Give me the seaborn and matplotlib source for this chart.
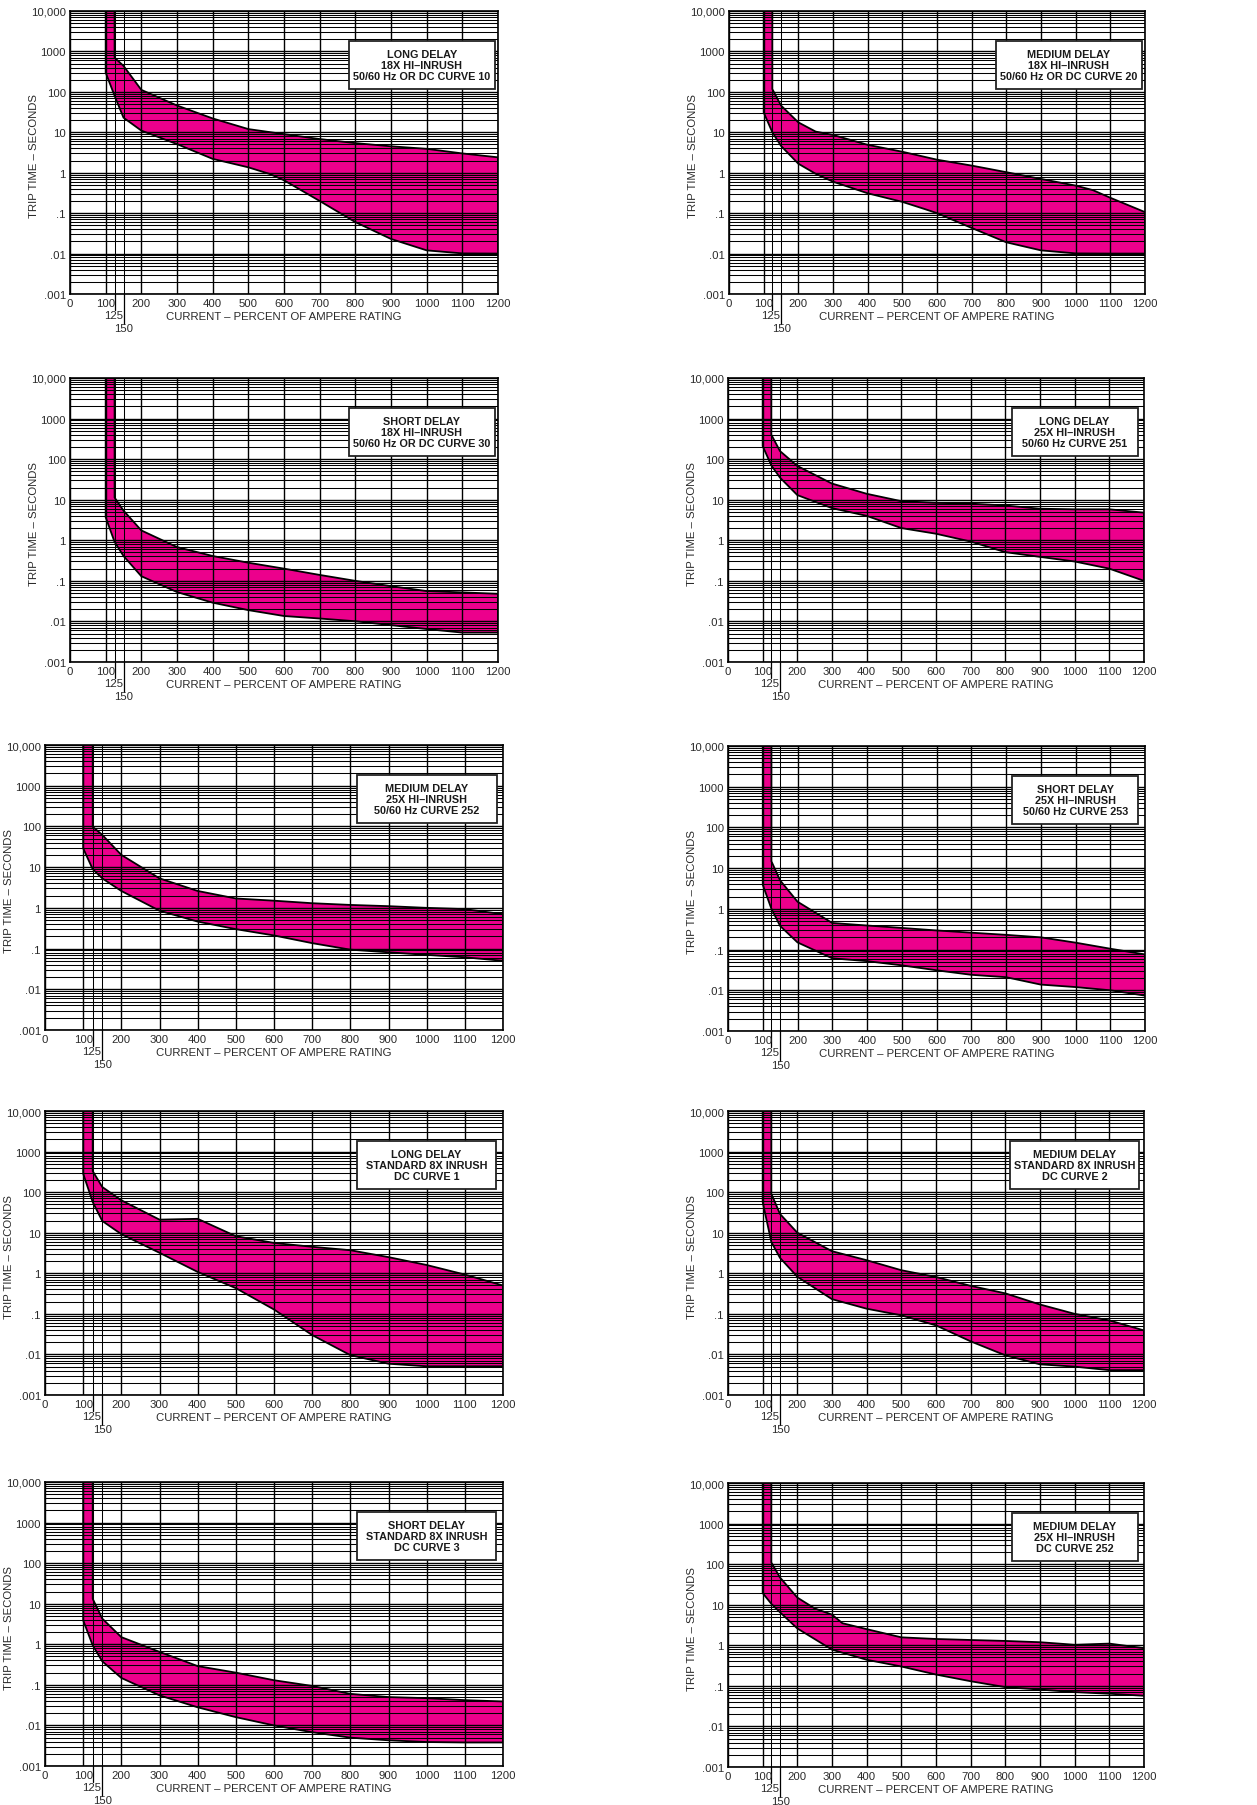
import matplotlib
matplotlib.use("Agg")
import matplotlib.pyplot as plt
import matplotlib.ticker as mticker
from matplotlib.patches import Rectangle
from matplotlib.transforms import blended_transform_factory
import numpy as np
import pandas as pd
import seaborn as sns

# ---------------------------------------------------------------
# DATA: trip-time band per curve (seconds)
# ---------------------------------------------------------------
LOW_X = [100, 100, 125, 150, 200, 300, 400, 500, 600, 700, 800, 900, 1000, 1100, 1200]
UP_X = [125, 125, 150, 200, 300, 400, 500, 600, 700, 800, 900, 1000, 1100, 1200]

# curve 10 - long delay 18x
c10_low_x = [100, 100, 125, 150, 200, 300, 400, 500, 560, 600, 700, 800, 900, 1000, 1100, 1200]
c10_low_y = [10000, 300, 80, 23, 11, 5.1, 2.2, 1.36, 0.93, 0.65, 0.2, 0.06, 0.023, 0.012, 0.0101, 0.01]
c10_up_y = [10000, 700, 440, 112, 46, 22, 12, 9, 6.8, 5.4, 4.5, 3.9, 3.0, 2.4]

# curve 20 - medium delay 18x
c20_low_x = [100, 100, 125, 150, 200, 250, 300, 400, 500, 560, 600, 700, 800, 900, 1000, 1100, 1200]
c20_low_y = [10000, 31, 10, 4.6, 1.67, 0.94, 0.6, 0.31, 0.19, 0.13, 0.10, 0.043, 0.019, 0.012, 0.0101, 0.01, 0.01]
c20_up_x = [125, 125, 150, 200, 250, 300, 400, 500, 600, 700, 800, 900, 1000, 1050, 1100, 1200]
c20_up_y = [10000, 117, 46, 17.6, 10.4, 8.6, 4.9, 3.3, 2.1, 1.5, 1.03, 0.7, 0.48, 0.37, 0.24, 0.106]

# curve 30 - short delay 18x
c30_low_y = [10000, 3.7, 0.91, 0.41, 0.13, 0.053, 0.029, 0.019, 0.0136, 0.0118, 0.0101, 0.0081, 0.0065, 0.0053, 0.0053]
c30_up_y = [10000, 11.3, 5.4, 1.75, 0.68, 0.41, 0.28, 0.2, 0.14, 0.1, 0.074, 0.056, 0.052, 0.048]

# curve 251 - long delay 25x
c251_low_y = [10000, 210, 70, 35, 13, 6.2, 4.0, 2.0, 1.45, 0.93, 0.51, 0.39, 0.3, 0.2, 0.1]
c251_up_y = [10000, 400, 158, 68, 25, 14, 9.2, 8.4, 8.0, 7.2, 6.0, 5.8, 5.8, 4.8]

# curve 252 - medium delay 25x (50/60 Hz)
c252_low_y = [10000, 29, 8.9, 5.3, 2.6, 0.85, 0.46, 0.3, 0.21, 0.136, 0.094, 0.081, 0.07, 0.061, 0.05]
c252_up_y = [10000, 98, 62, 20, 5.3, 2.6, 1.7, 1.5, 1.3, 1.18, 1.1, 1.0, 0.93, 0.7]

# curve 253 - short delay 25x
c253_low_y = [10000, 3.9, 1.0, 0.38, 0.15, 0.061, 0.052, 0.041, 0.031, 0.024, 0.021, 0.0138, 0.012, 0.01, 0.0074]
c253_up_y = [10000, 14.7, 5.0, 1.5, 0.45, 0.39, 0.34, 0.295, 0.26, 0.23, 0.2, 0.148, 0.105, 0.076]

# curve 1 - long delay standard 8x
c1_low_y = [10000, 285, 57, 19.5, 9.2, 3.2, 1.08, 0.43, 0.128, 0.03, 0.0096, 0.0059, 0.0051, 0.0051, 0.0051]
c1_up_y = [10000, 330, 134, 63, 21, 22, 8.2, 5.6, 4.5, 3.7, 2.5, 1.6, 0.93, 0.5]

# curve 2 - medium delay standard 8x
c2_low_y = [10000, 57, 5.9, 2.4, 0.82, 0.23, 0.134, 0.092, 0.052, 0.021, 0.0095, 0.0057, 0.005, 0.0041, 0.0041]
c2_up_y = [10000, 91, 29, 10, 3.5, 2.1, 1.19, 0.81, 0.49, 0.32, 0.17, 0.1, 0.069, 0.039]

# curve 3 - short delay standard 8x
c3_low_y = [10000, 3.9, 0.94, 0.38, 0.148, 0.055, 0.028, 0.016, 0.01, 0.0068, 0.005, 0.0043, 0.0039, 0.0038, 0.0038]
c3_up_y = [10000, 13.2, 4.3, 1.5, 0.65, 0.29, 0.2, 0.13, 0.094, 0.06, 0.05, 0.047, 0.042, 0.039]

# curve 252 DC - medium delay 25x
c252dc_low_y = [10000, 19.4, 10.5, 6.5, 2.6, 0.78, 0.44, 0.30, 0.19, 0.13, 0.093, 0.081, 0.07, 0.064, 0.057]
c252dc_up_x = [125, 125, 150, 200, 250, 300, 330, 400, 500, 600, 700, 800, 900, 1000, 1100, 1200]
c252dc_up_y = [10000, 110, 47, 15, 8.1, 5.7, 3.5, 2.5, 1.57, 1.43, 1.35, 1.28, 1.19, 1.03, 1.1, 0.85]

titles = [
    "LONG DELAY\n18X HI–INRUSH\n50/60 Hz OR DC CURVE 10",
    "MEDIUM DELAY\n18X HI–INRUSH\n50/60 Hz OR DC CURVE 20",
    "SHORT DELAY\n18X HI–INRUSH\n50/60 Hz OR DC CURVE 30",
    "LONG DELAY\n25X HI–INRUSH\n50/60 Hz CURVE 251",
    "MEDIUM DELAY\n25X HI–INRUSH\n50/60 Hz CURVE 252",
    "SHORT DELAY\n25X HI–INRUSH\n50/60 Hz CURVE 253",
    "LONG DELAY\nSTANDARD 8X INRUSH\nDC CURVE 1",
    "MEDIUM DELAY\nSTANDARD 8X INRUSH\nDC CURVE 2",
    "SHORT DELAY\nSTANDARD 8X INRUSH\nDC CURVE 3",
    "MEDIUM DELAY\n25X HI–INRUSH\nDC CURVE 252",
]

bands = [
    (c10_low_x, c10_low_y, UP_X, c10_up_y),
    (c20_low_x, c20_low_y, c20_up_x, c20_up_y),
    (LOW_X, c30_low_y, UP_X, c30_up_y),
    (LOW_X, c251_low_y, UP_X, c251_up_y),
    (LOW_X, c252_low_y, UP_X, c252_up_y),
    (LOW_X, c253_low_y, UP_X, c253_up_y),
    (LOW_X, c1_low_y, UP_X, c1_up_y),
    (LOW_X, c2_low_y, UP_X, c2_up_y),
    (LOW_X, c3_low_y, UP_X, c3_up_y),
    (LOW_X, c252dc_low_y, c252dc_up_x, c252dc_up_y),
]

y_ticks = [0.001, 0.01, 0.1, 1, 10, 100, 1000, 10000]
y_tick_labels = [".001", ".01", ".1", "1", "10", "100", "1000", "10,000"]
x_ticks = list(range(0, 1201, 100))

# ---------------------------------------------------------------
# LAYOUT (pixels on the 1257x1806 sheet)
# ---------------------------------------------------------------
W, H = 1257, 1806
axes_px = [
    (70, 12, 498, 295), (729, 12, 1145, 295),
    (70, 379, 498, 663), (728, 379, 1144, 663),
    (45, 746, 503, 1031), (728, 747, 1145, 1032),
    (45, 1112, 503, 1396), (728, 1112, 1144, 1396),
    (45, 1483, 503, 1767), (728, 1484, 1144, 1768),
]
box_w_px = [135, 131, 136, 126, 140, 126, 139, 126, 139, 126]

MAGENTA = "#EC008C"
TXT = "#2a2a2a"

sns.set_theme(style="white")
plt.rcParams["font.family"] = ["Liberation Sans", "DejaVu Sans"]

fig = plt.figure(figsize=(W / 100, H / 100), dpi=100)
renderer = fig.canvas.get_renderer()

for (l, t, r, b), title, (lx, ly, ux, uy), bw in zip(axes_px, titles, bands, box_w_px):
    aw, ah = r - l, b - t
    ax = fig.add_axes([l / W, 1 - b / H, aw / W, ah / H])
    ax.set_yscale("log")

    # band polygon: lower limit forward, upper limit back
    poly_x = list(lx) + list(ux)[::-1]
    poly_y = list(ly) + list(uy)[::-1]
    ax.fill(poly_x, poly_y, color=MAGENTA, lw=0, zorder=1)
    outline = pd.DataFrame({"x": poly_x, "y": poly_y})
    sns.lineplot(data=outline, x="x", y="y", sort=False, estimator=None,
                 color="black", lw=1.3, ax=ax, zorder=3)

    ax.set_xlim(0, 1200)
    ax.set_ylim(1e-3, 1e4)
    ax.set_yticks(y_ticks)
    ax.set_yticklabels(y_tick_labels)
    ax.yaxis.set_minor_locator(mticker.LogLocator(base=10, subs=np.arange(2, 10), numticks=100))
    ax.yaxis.set_minor_formatter(mticker.NullFormatter())
    ax.set_xticks(x_ticks)
    ax.set_xticks([125, 150], minor=True)
    ax.xaxis.set_minor_formatter(mticker.NullFormatter())
    ax.set_axisbelow(False)
    ax.grid(which="major", color="black", lw=1.0, zorder=2)
    ax.grid(which="minor", color="black", lw=0.75, zorder=2)
    ax.tick_params(which="both", length=0, labelsize=8.2, labelcolor=TXT)
    ax.tick_params(axis="x", pad=3)
    ax.tick_params(axis="y", pad=3)
    for sp in ax.spines.values():
        sp.set_color("black")
        sp.set_linewidth(1.2)

    ax.set_xlabel("CURRENT – PERCENT OF AMPERE RATING", fontsize=8.2, color=TXT)
    ax.set_ylabel("TRIP TIME – SECONDS", fontsize=8.2, color=TXT)
    ax.xaxis.set_label_coords(0.5, -17 / ah)
    ax.yaxis.set_label_coords(-31 / aw, 0.49)

    # 125 / 150 markers hanging below the axis
    ax.axvline(125, ymin=-16 / ah, ymax=0, color="black", lw=0.9, clip_on=False)
    ax.axvline(150, ymin=-30 / ah, ymax=0, color="black", lw=0.9, clip_on=False)
    tr = blended_transform_factory(ax.transData, ax.transAxes)
    ax.text(121, -16 / ah, "125", transform=tr, ha="center", va="top", fontsize=8.2, color=TXT)
    ax.text(151, -29 / ah, "150", transform=tr, ha="center", va="top", fontsize=8.2, color=TXT)

    # curve title box, sized to at least the printed box width
    txt = ax.text(0.833, 0.81, title, transform=ax.transAxes, ha="center", va="center",
                  fontsize=7.8, fontweight="bold", color="#1a1a1a", linespacing=1.15, zorder=6)
    tw = txt.get_window_extent(renderer=renderer).width
    bwf = max(bw, tw + 8) / aw
    cx = min(0.833, 0.992 - bwf / 2)
    txt.set_x(cx)
    ax.add_patch(Rectangle((cx - bwf / 2, 0.725), bwf, 0.17, transform=ax.transAxes,
                           facecolor="white", edgecolor="#222222", lw=1.3, zorder=5))

fig.savefig("out.png", dpi=100)
